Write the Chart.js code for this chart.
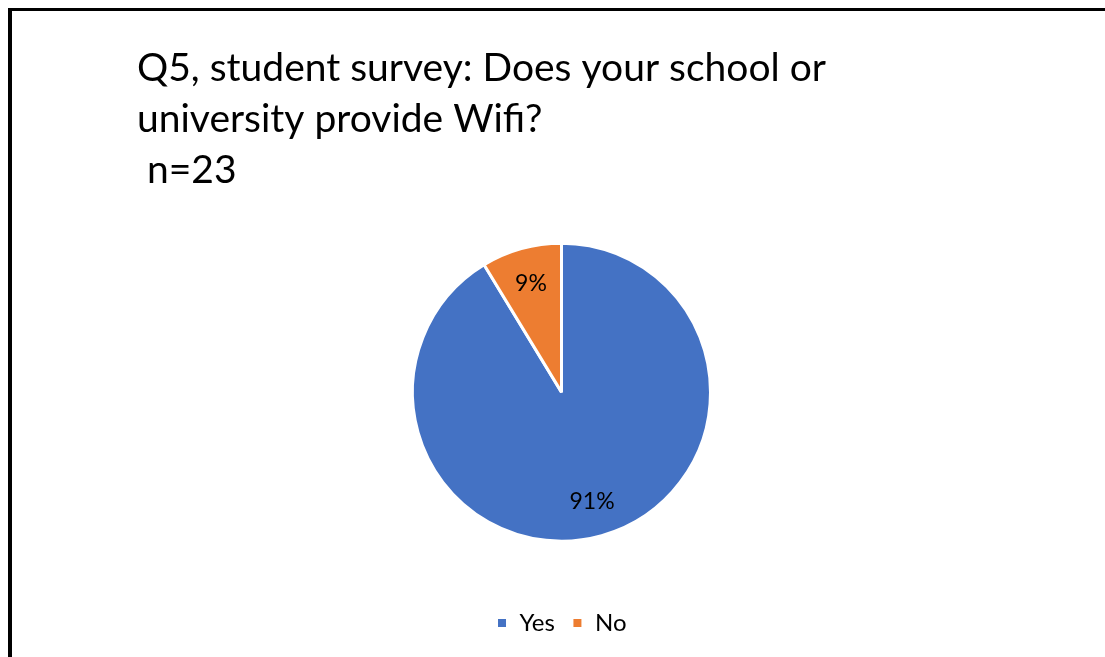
<!DOCTYPE html>
<html>
<head>
<meta charset="utf-8">
<script src="https://cdn.jsdelivr.net/npm/chart.js@4.4.0/dist/chart.umd.min.js"></script>
<style>
  body { margin: 0; background: #fff; }
  #frame { position: absolute; left: 8px; top: 8px; width: 1110px; height: 660px;
           border-left: 4px solid #000; border-top: 3px solid #000; }
  #wrap { position: absolute; left: 12px; top: 11px; width: 1093px; height: 646px; }
</style>
</head>
<body>
<div id="frame"></div>
<div id="wrap"><canvas id="chart"></canvas></div>
<script>
const categories = ['Yes', 'No'];
const counts = [21, 2];           // n=23
const sliceColors = ['#4472C4', '#ED7D31'];
const titleLines = ['Q5, student survey: Does your school or', 'university provide Wifi?', ' n=23'];

const total = counts.reduce((a, b) => a + b, 0);

// draws the % inside each slice
const pctLabels = {
  id: 'pctLabels',
  afterDatasetsDraw(chart) {
    const ctx = chart.ctx;
    const arcs = chart.getDatasetMeta(0).data;
    ctx.save();
    ctx.font = '23px Lato';
    ctx.fillStyle = '#000';
    ctx.textAlign = 'center';
    ctx.textBaseline = 'middle';
    arcs.forEach((arc, i) => {
      const p = arc.getProps(['x', 'y', 'startAngle', 'endAngle', 'outerRadius'], true);
      const mid = (p.startAngle + p.endAngle) / 2;
      const r = p.outerRadius * 0.76;
      const pct = Math.round(counts[i] / total * 100) + '%';
      ctx.fillText(pct, p.x + Math.cos(mid) * r, p.y + Math.sin(mid) * r);
    });
    ctx.restore();
  }
};

const ctx = document.getElementById('chart').getContext('2d');
const chart = new Chart(ctx, {
  type: 'pie',
  data: {
    labels: categories,
    datasets: [{
      data: counts,
      backgroundColor: sliceColors,
      borderColor: '#fff',
      borderWidth: 3,
      radius: 149
    }]
  },
  options: {
    responsive: true,
    maintainAspectRatio: false,
    animation: false,
    layout: { padding: { left: 125, right: 119, top: 0, bottom: 12 } },
    plugins: {
      title: {
        display: true,
        text: titleLines,
        align: 'start',
        color: '#000',
        font: { family: 'Lato', size: 39, weight: 'normal', lineHeight: 1.31 },
        padding: { top: 32, bottom: -6 }
      },
      legend: {
        position: 'bottom',
        labels: {
          color: '#000',
          font: { family: 'Lato', size: 24 },
          boxWidth: 11,
          boxHeight: 11,
          padding: 17
        }
      },
      tooltip: { enabled: false }
    }
  },
  plugins: [pctLabels]
});
</script>
</body>
</html>
